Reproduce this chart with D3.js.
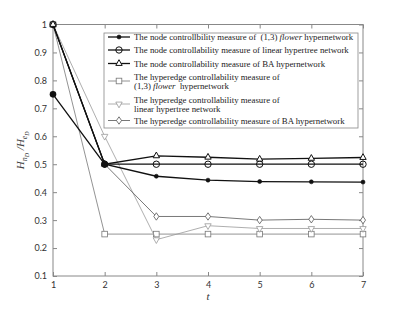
<!DOCTYPE html>
<html>
<head>
<meta charset="utf-8">
<style>
body { margin: 0; background: #fff; }
svg { display: block; }
.tick text { font-family: Lato, "Open Sans", sans-serif; font-size: 9px; fill: #333; }
.legend text { font-family: "Liberation Serif", "DejaVu Serif", serif; font-size: 8.8px; fill: #222; }
</style>
</head>
<body>
<svg width="401" height="317"></svg>
<script src="https://d3js.org/d3.v7.min.js"></script>
<script>
// time steps
var steps = [1, 2, 3, 4, 5, 6, 7];

// node controllability measures
var nodeFlower = [0.75, 0.5, 0.457, 0.443, 0.438, 0.437, 0.436];
var nodeLinear = [1.0, 0.5, 0.5, 0.5, 0.5, 0.5, 0.5];
var nodeBA     = [1.0, 0.5, 0.53, 0.525, 0.518, 0.521, 0.524];

// hyperedge controllability measures
var edgeFlower = [1.0, 0.25, 0.25, 0.25, 0.25, 0.25, 0.25];
var edgeLinear = [1.0, 0.6, 0.23, 0.28, 0.27, 0.27, 0.27];
var edgeBA     = [1.0, 0.5, 0.313, 0.313, 0.3, 0.303, 0.3];

var yTicks = [0.1, 0.2, 0.3, 0.4, 0.5, 0.6, 0.7, 0.8, 0.9, 1];

var legendLabels = [
    ["The node controllbility measure of  (1,3) <i>flower</i> hypernetwork"],
    ["The node controllability measure of linear hypertree network"],
    ["The node controllability measure of BA hypernetwork"],
    ["The hyperedge controllability measure of", "(1,3) <i>flower</i>  hypernetwork"],
    ["The hyperedge controllability measure of", "linear hypertree network"],
    ["The hyperedge controllability measure of BA hypernetwork"]
];

var series = [
    {values: nodeFlower, marker: "star",  color: "#111", width: 1.3},
    {values: nodeLinear, marker: "circle", color: "#111", width: 1.3},
    {values: nodeBA,     marker: "tri",   color: "#111", width: 1.3},
    {values: edgeFlower, marker: "square", color: "#777", width: 0.8},
    {values: edgeLinear, marker: "dtri",  color: "#999", width: 0.8},
    {values: edgeBA,     marker: "diamond", color: "#555", width: 0.8}
];

var margin = {left: 53, top: 24.5, right: 38, bottom: 41};
var width = 401, height = 317;
var svg = d3.select("svg");

var x = d3.scaleLinear().domain([1, 7]).range([margin.left, width - margin.right]);
var y = d3.scaleLinear().domain([0.1, 1]).range([height - margin.bottom, margin.top]);

var frameColor = "#888";

// frame
svg.append("rect")
    .attr("x", x(1)).attr("y", y(1))
    .attr("width", x(7) - x(1)).attr("height", y(0.1) - y(1))
    .style("fill", "none").style("stroke", frameColor).style("stroke-width", 1);

function styleAxis(g) {
    g.select(".domain").remove();
    g.selectAll(".tick line").style("stroke", frameColor);
}

svg.append("g").attr("transform", `translate(0,${y(0.1)})`)
    .call(d3.axisBottom(x).tickValues(steps).tickSize(-4).tickPadding(6).tickFormat(d3.format("d")))
    .call(styleAxis);
svg.append("g").attr("transform", `translate(0,${y(1)})`)
    .call(d3.axisTop(x).tickValues(steps).tickSize(-4).tickFormat(""))
    .call(styleAxis);
svg.append("g").attr("transform", `translate(${x(1)},0)`)
    .call(d3.axisLeft(y).tickValues(yTicks).tickSize(-4).tickPadding(6)
        .tickFormat(d => d === 1 ? "1" : d3.format(".1f")(d)))
    .call(styleAxis);
svg.append("g").attr("transform", `translate(${x(7)},0)`)
    .call(d3.axisRight(y).tickValues(yTicks).tickSize(-4).tickFormat(""))
    .call(styleAxis);

// axis titles
svg.append("text")
    .attr("x", x(4)).attr("y", 300)
    .attr("text-anchor", "middle")
    .style("font-family", "'Liberation Serif', serif").style("font-style", "italic")
    .style("font-size", "11px").style("fill", "#333")
    .text("t");

var ylab = svg.append("text")
    .attr("transform", `translate(24,${y(0.55)}) rotate(-90)`)
    .attr("text-anchor", "middle")
    .style("font-family", "'Liberation Serif', serif").style("font-style", "italic")
    .style("font-size", "11px").style("fill", "#444");
ylab.append("tspan").text("H");
ylab.append("tspan").attr("dy", 3).style("font-size", "8px").text("n");
ylab.append("tspan").attr("dy", 2).style("font-size", "6px").text("D");
ylab.append("tspan").attr("dy", -5).text(" /H");
ylab.append("tspan").attr("dy", 3).style("font-size", "8px").text("e");
ylab.append("tspan").attr("dy", 2).style("font-size", "6px").text("D");

function drawMarker(g, type, cx, cy, color) {
    var s = 3.2;
    if (type === "star") {
        g.append("circle").attr("cx", cx).attr("cy", cy).attr("r", 2)
            .style("fill", color).style("stroke", color).style("stroke-width", 0.6);
    } else if (type === "circle") {
        g.append("circle").attr("cx", cx).attr("cy", cy).attr("r", s)
            .style("fill", "none").style("stroke", color).style("stroke-width", 1);
    } else if (type === "square") {
        g.append("rect").attr("x", cx - 2.8).attr("y", cy - 2.8).attr("width", 5.6).attr("height", 5.6)
            .style("fill", "#fff").style("stroke", color).style("stroke-width", 0.8);
    } else {
        var pts;
        if (type === "tri") pts = [[cx, cy - s - 0.6], [cx - s, cy + s * 0.6], [cx + s, cy + s * 0.6]];
        if (type === "dtri") pts = [[cx, cy + s + 0.6], [cx - s, cy - s * 0.6], [cx + s, cy - s * 0.6]];
        if (type === "diamond") pts = [[cx, cy - s - 0.5], [cx + s * 0.8, cy], [cx, cy + s + 0.5], [cx - s * 0.8, cy]];
        g.append("polygon").attr("points", pts.map(p => p.join(",")).join(" "))
            .style("fill", "#fff").style("stroke", color).style("stroke-width", type === "tri" ? 1 : 0.8);
    }
}

var line = d3.line().x((d, i) => x(steps[i])).y(d => y(d));

// draw hyperedge series first, node series on top
[3, 4, 5, 0, 1, 2].forEach(function(k) {
    var s = series[k];
    svg.append("path")
        .attr("d", line(s.values))
        .style("fill", "none").style("stroke", s.color).style("stroke-width", s.width);
    var g = svg.append("g");
    s.values.forEach(function(v, i) {
        drawMarker(g, s.marker, x(steps[i]), y(v), s.color);
    });
});

// big markers at the shared points (1, 0.75) and (2, 0.5)
svg.append("circle").attr("cx", x(1)).attr("cy", y(nodeFlower[0])).attr("r", 3.3).style("fill", "#111");
svg.append("circle").attr("cx", x(2)).attr("cy", y(nodeFlower[1])).attr("r", 3.3).style("fill", "#111");

// legend
var legend = svg.append("g").attr("class", "legend");
legend.append("rect")
    .attr("x", 104).attr("y", 33).attr("width", 254).attr("height", 95)
    .style("fill", "#fff").style("stroke", "#888").style("stroke-width", 0.8);

var rowY = [37, 50, 63.5, 81, 104, 120.5];
legendLabels.forEach(function(lines, k) {
    var s = series[k];
    var cy = rowY[k];
    legend.append("line").attr("x1", 108).attr("x2", 130).attr("y1", cy).attr("y2", cy)
        .style("stroke", s.color).style("stroke-width", s.width);
    drawMarker(legend, s.marker, 119, cy, s.color);
    lines.forEach(function(txt, j) {
        var ty = cy + 3 + (lines.length === 2 ? (j === 0 ? -4.5 : 4.5) : 0);
        var t = legend.append("text").attr("x", 134).attr("y", ty);
        // split on italic tags
        txt.split(/(<i>.*?<\/i>)/).forEach(function(part) {
            if (!part) return;
            var it = part.startsWith("<i>");
            t.append("tspan").style("font-style", it ? "italic" : "normal")
                .style("white-space", "pre")
                .text(it ? part.slice(3, -4) : part);
        });
    });
});
</script>
</body>
</html>
